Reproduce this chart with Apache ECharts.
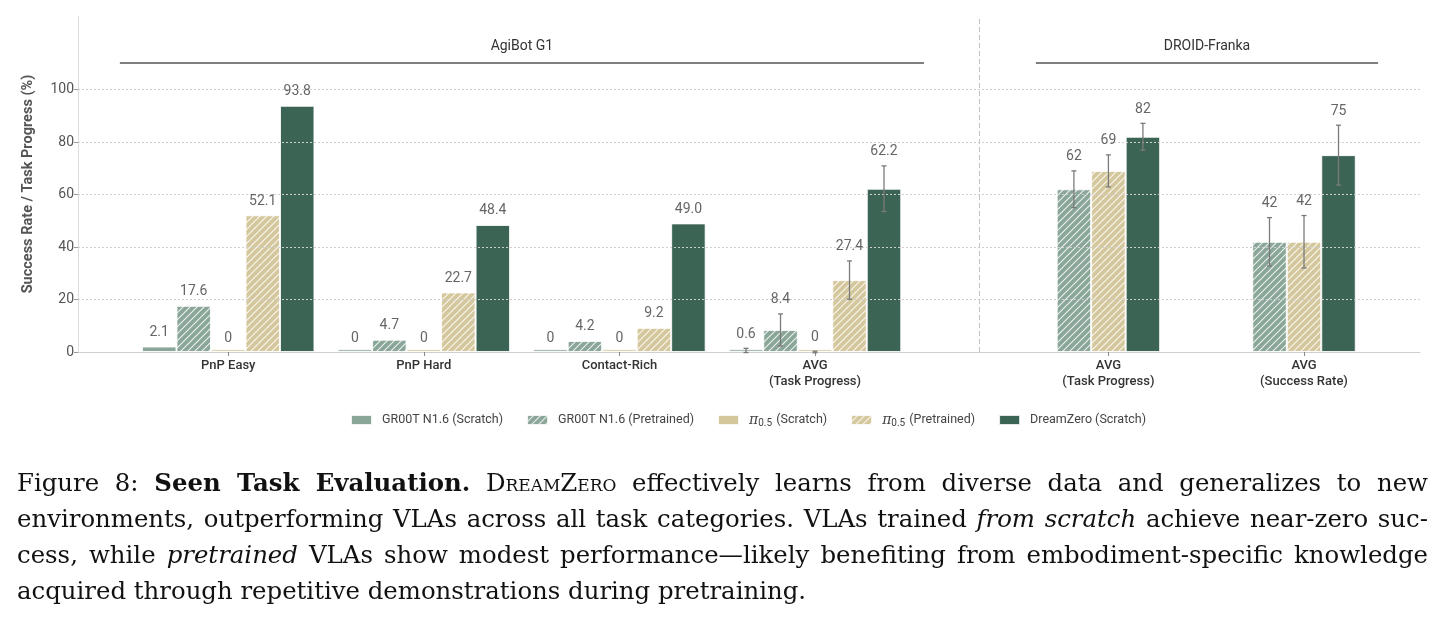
<!DOCTYPE html>
<html>
<head>
<meta charset="utf-8">
<script src="https://cdn.jsdelivr.net/npm/echarts@6/dist/echarts.min.js"></script>
<style>
  html, body { margin: 0; padding: 0; background: #fff; }
  #chart { width: 1447px; height: 617px; }
  .caption {
    position: absolute; left: 17px; top: 465px; width: 1411px;
    font-family: 'DejaVu Serif', serif; font-size: 24.4px; line-height: 36px; color: #111;
  }
  .caption div { text-align: justify; text-align-last: justify; white-space: nowrap; }
  .caption div.last { text-align-last: left; }
  .sc { font-variant: small-caps; }
</style>
</head>
<body>
<div id="chart"></div>
<div class="caption">
  <div>Figure 8: <b>Seen Task Evaluation.</b> <span class="sc">DreamZero</span> effectively learns from diverse data and generalizes to new</div>
  <div>environments, outperforming VLAs across all task categories. VLAs trained <i>from scratch</i> achieve near-zero suc-</div>
  <div>cess, while <i>pretrained</i> VLAs show modest performance—likely benefiting from embodiment-specific knowledge</div>
  <div class="last">acquired through repetitive demonstrations during pretraining.</div>
</div>
<script>
// categories and where they sit on the x scale (DROID groups are pushed right)
const categories = ['PnP Easy', 'PnP Hard', 'Contact-Rich', 'AVG\n(Task Progress)', 'AVG\n(Task Progress)', 'AVG\n(Success Rate)'];
const xPos = [0, 1, 2, 3, 4.5, 5.5];
const agiX = [0, 1, 2, 3];
const droidX = [4.5, 5.5];

const seriesNames = ['GR00T N1.6 (Scratch)', 'GR00T N1.6 (Pretrained)', 'π0.5 (Scratch)', 'π0.5 (Pretrained)', 'DreamZero (Scratch)'];

// AgiBot G1
const grootScratch = [2.1, 0, 0, 0.6];
const grootPre = [17.6, 4.7, 4.2, 8.4];
const piScratch = [0, 0, 0, 0];
const piPre = [52.1, 22.7, 9.2, 27.4];
const dreamZero = [93.8, 48.4, 49.0, 62.2];
const grootScratchErr = [0, 0, 0, 0.8];
const grootPreErr = [0, 0, 0, 6.1];
const piScratchErr = [0, 0, 0, 0.3];
const piPreErr = [0, 0, 0, 7.3];
const dreamZeroErr = [0, 0, 0, 8.7];

// DROID-Franka
const grootPreD = [62, 42];
const piPreD = [69, 42];
const dreamZeroD = [82, 75];
const grootPreDErr = [7, 9.2];
const piPreDErr = [6.1, 10];
const dreamZeroDErr = [5.1, 11.4];

const yTicks = [0, 20, 40, 60, 80, 100];
const gridValues = [20, 40, 60, 80, 100];
const groupNames = ['AgiBot G1', 'DROID-Franka'];
const groupStart = [-0.554, 4.129];
const groupEnd = [3.557, 5.879];
const groupLevel = 110.2;
const dividerX = 3.838;

const C_GROOT = '#8aa698';
const C_PI = '#d5c79c';
const C_DZ = '#3c6454';
const BAR_W = 34.5;

function hatch(color) {
  const s = 7;
  const c = document.createElement('canvas');
  c.width = s; c.height = s;
  const g = c.getContext('2d');
  g.fillStyle = color;
  g.fillRect(0, 0, s, s);
  g.strokeStyle = 'rgba(255,255,255,0.85)';
  g.lineWidth = 1.1;
  g.beginPath();
  g.moveTo(0, s); g.lineTo(s, 0);
  g.moveTo(-1, 1); g.lineTo(1, -1);
  g.moveTo(s - 1, s + 1); g.lineTo(s + 1, s - 1);
  g.stroke();
  return { image: c, repeat: 'repeat' };
}

const fills = [C_GROOT, hatch(C_GROOT), C_PI, hatch(C_PI), C_DZ];

const pair = (xs, vs) => xs.map((x, i) => [x, vs[i]]);

const barBase = {
  type: 'bar',
  barWidth: BAR_W,
  barGap: '0%',
  z: 2,
  barMinHeight: 2.7,
  itemStyle: { borderColor: 'rgba(255,255,255,0.85)', borderWidth: 1 },
};

const agiVals = [grootScratch, grootPre, piScratch, piPre, dreamZero];
const agiErrs = [grootScratchErr, grootPreErr, piScratchErr, piPreErr, dreamZeroErr];
const droidVals = [grootPreD, piPreD, dreamZeroD];
const droidErrs = [grootPreDErr, piPreDErr, dreamZeroDErr];
const droidIdx = [1, 3, 4];

const series = [];
// helper series for grid lines, group brackets, divider
series.push({
  type: 'line', data: [], silent: true, z: 1,
  markLine: {
    silent: true, symbol: 'none', animation: false,
    label: { show: false },
    data: gridValues.map((v) => ({ yAxis: v, lineStyle: { type: [2, 2], color: '#cfcfcf', width: 1 } }))
      .concat([{ xAxis: dividerX, lineStyle: { type: [5, 3], color: '#c4c4c4', width: 1 } }])
      .concat(groupNames.map((n, i) => [
        {
          coord: [groupStart[i], groupLevel],
          lineStyle: { type: 'solid', color: '#555', width: 1.5 },
          label: { show: true, position: 'middle', formatter: n, color: '#333', fontSize: 14, distance: 9 },
        },
        { coord: [groupEnd[i], groupLevel] },
      ])),
  },
});

agiVals.forEach((vals, i) => {
  series.push(Object.assign({}, barBase, {
    name: seriesNames[i],
    xAxisIndex: 0,
    data: pair(agiX, vals),
    itemStyle: Object.assign({}, barBase.itemStyle, { color: fills[i] }),
  }));
});
droidVals.forEach((vals, j) => {
  const i = droidIdx[j];
  series.push(Object.assign({}, barBase, {
    name: seriesNames[i],
    xAxisIndex: 1,
    data: pair(droidX, vals),
    itemStyle: Object.assign({}, barBase.itemStyle, { color: fills[i] }),
  }));
});

// error bars + value labels: [x, value, err, slot, digits]
const annot = [];
agiVals.forEach((vals, i) => vals.forEach((v, k) => annot.push([agiX[k], v, agiErrs[i][k], i - 2, 1])));
droidVals.forEach((vals, j) => vals.forEach((v, k) => annot.push([droidX[k], v, droidErrs[j][k], j - 1, 0])));

series.push({
  type: 'custom', xAxisIndex: 0, z: 5, silent: true,
  data: annot,
  renderItem(params, api) {
    const x = api.value(0), v = api.value(1), e = api.value(2), slot = api.value(3), d = api.value(4);
    const cx = api.coord([x, v])[0] + slot * BAR_W;
    const children = [];
    if (e > 0) {
      const t = api.coord([x, v + e])[1];
      const b = api.coord([x, v - e])[1];
      const ls = { stroke: '#7a7a7a', lineWidth: 1.3 };
      children.push({ type: 'line', shape: { x1: cx, y1: t, x2: cx, y2: b }, style: ls });
      children.push({ type: 'line', shape: { x1: cx - 2.5, y1: t, x2: cx + 2.5, y2: t }, style: ls });
      children.push({ type: 'line', shape: { x1: cx - 2.5, y1: b, x2: cx + 2.5, y2: b }, style: ls });
    }
    const ly = api.coord([x, v + e])[1] - 7;
    children.push({
      type: 'text',
      style: {
        x: cx, y: ly, text: v === 0 ? '0' : v.toFixed(d),
        align: 'center', verticalAlign: 'bottom',
        fill: '#666', fontSize: 14, fontFamily: 'Roboto',
      },
    });
    return { type: 'group', children };
  },
});

const xBase = { type: 'value', min: -0.768, max: 6.093 };

const chart = echarts.init(document.getElementById('chart'));
chart.setOption({
  animation: false,
  textStyle: { fontFamily: 'Roboto' },
  grid: { left: 78, right: 27, top: 16, bottom: 265 },
  legend: {
    left: 350, top: 413, padding: 0,
    itemWidth: 21, itemHeight: 10, itemGap: 23,
    selectedMode: false,
    icon: 'rect',
    data: seriesNames,
    textStyle: {
      fontSize: 12.5, color: '#444', padding: [0, 0, 0, 5],
      rich: {
        pi: { fontStyle: 'italic', fontFamily: 'DejaVu Serif', fontSize: 14, color: '#444' },
        sub: { fontSize: 10, color: '#444', verticalAlign: 'bottom', padding: [6, 1, 0, 0] },
      },
    },
    formatter: (n) => n.startsWith('π0.5') ? '{pi|π}{sub|0.5}' + n.slice(4) : n,
  },
  xAxis: [
    Object.assign({}, xBase, {
      splitLine: { show: false },
      axisLine: { lineStyle: { color: '#d0d0d0' } },
      axisTick: { customValues: xPos, length: 4, lineStyle: { color: '#888' } },
      axisLabel: {
        customValues: xPos,
        formatter: (v) => categories[xPos.indexOf(v)] || '',
        color: '#333', fontSize: 13, fontWeight: 500, lineHeight: 16, margin: 6,
      },
    }),
    Object.assign({}, xBase, { show: false }),
  ],
  yAxis: {
    type: 'value', min: 0, max: 128, interval: 20,
    name: 'Success Rate / Task Progress (%)',
    nameLocation: 'middle', nameGap: 42,
    nameTextStyle: { fontWeight: 'bold', fontSize: 14.5, color: '#555' },
    splitLine: { show: false },
    axisLine: { show: true, onZero: false, lineStyle: { color: '#dcdcdc' } },
    axisTick: { show: true, customValues: yTicks, length: 4, lineStyle: { color: '#999' } },
    axisLabel: { customValues: yTicks, color: '#555', fontSize: 14, margin: 4 },
  },
  series,
});
</script>
</body>
</html>
